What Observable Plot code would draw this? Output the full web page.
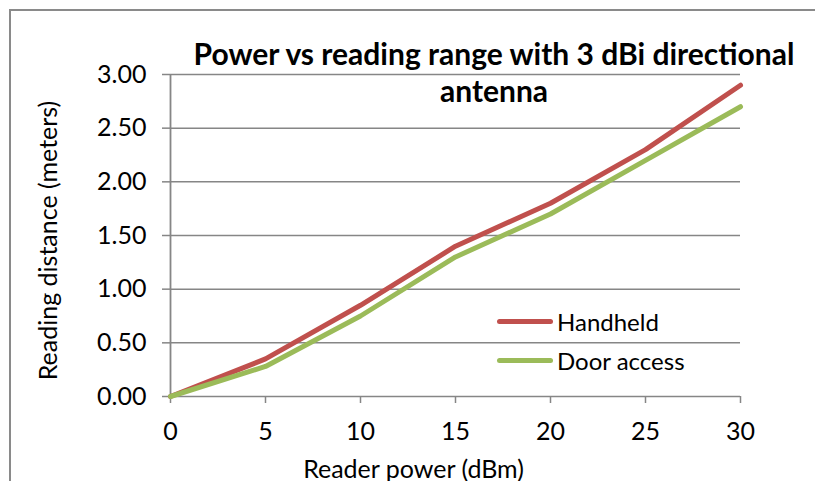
<!DOCTYPE html>
<html>
<head>
<meta charset="utf-8">
<script src="https://cdn.jsdelivr.net/npm/d3@7"></script>
<script src="https://cdn.jsdelivr.net/npm/@observablehq/plot@0.6"></script>
<style>
  html, body { margin: 0; padding: 0; background: #fff; overflow: hidden; }
  #wrap { position: relative; width: 815px; height: 481px; overflow: hidden; font-family: Lato, "Open Sans", sans-serif; }
  #ftop { position: absolute; left: 9px; top: 9px; width: 806px; height: 1.5px; background: #8a8a8a; }
  #fleft { position: absolute; left: 9px; top: 9px; width: 1.5px; height: 472px; background: #8a8a8a; }
  #title { position: absolute; left: 174px; width: 640px; top: 35px; text-align: center; font-weight: bold; font-size: 30px; line-height: 37px; color: #000; white-space: nowrap; }
  .leg { position: absolute; left: 497px; font-size: 24px; line-height: 29px; color: #000; display: flex; align-items: center; white-space: nowrap; }
  .leg span.sw { display: inline-block; width: 56px; height: 5px; border-radius: 3px; margin-right: 4px; }
  #plot { position: absolute; left: 0; top: 0; }
</style>
</head>
<body>
<div id="wrap">
  <div id="ftop"></div>
  <div id="fleft"></div>
  <div id="plot"></div>
  <div id="title">Power vs reading range with 3 dBi directional<br>antenna</div>
  <div id="legend"></div>
</div>
<script>
const power = [0, 5, 10, 15, 20, 25, 30];
const handheld = [0, 0.35, 0.85, 1.40, 1.80, 2.30, 2.90];
const doorAccess = [0, 0.28, 0.75, 1.30, 1.70, 2.20, 2.70];
const seriesNames = ["Handheld", "Door access"];
const seriesColors = ["#C0504D", "#9BBB59"];
const yTicks = [0, 0.5, 1, 1.5, 2, 2.5, 3];
const xTicks = [0, 5, 10, 15, 20, 25, 30];

const data = [];
power.forEach((p, i) => {
  data.push({power: p, value: handheld[i], series: seriesNames[0]});
  data.push({power: p, value: doorAccess[i], series: seriesNames[1]});
});

const gray = "#868686";
const chart = Plot.plot({
  width: 815,
  height: 481,
  marginLeft: 170,
  marginRight: 75,
  marginTop: 74,
  marginBottom: 85,
  style: {fontFamily: "Lato, 'Open Sans', sans-serif", fontSize: "25px", color: "#000", background: "transparent"},
  x: {domain: [0, 30]},
  y: {domain: [0, 3]},
  color: {domain: seriesNames, range: seriesColors},
  marks: [
    Plot.gridY(yTicks, {stroke: gray, strokeOpacity: 1, strokeWidth: 1.5}),
    Plot.ruleX([0], {stroke: gray, strokeWidth: 1.8}),
    Plot.axisY({ticks: yTicks, tickFormat: d => d.toFixed(2), tickSize: 8, tickPadding: 16, stroke: gray, strokeWidth: 1.5, strokeOpacity: 1, fontSize: 25, label: null}),
    Plot.axisX({ticks: xTicks, tickSize: 7, tickPadding: 19, stroke: gray, strokeWidth: 1.5, strokeOpacity: 1, fontSize: 25, label: null}),
    Plot.line(data, {x: "power", y: "value", z: "series", stroke: "series", strokeWidth: 5, strokeLinejoin: "round", strokeLinecap: "round"}),
    Plot.text(["Reading distance (meters)"], {frameAnchor: "left", dx: -122, dy: 5, rotate: -90, textAnchor: "middle", lineAnchor: "middle", fontSize: 25}),
    Plot.text(["Reader power (dBm)"], {frameAnchor: "bottom", dx: -42, dy: 81, textAnchor: "middle", lineAnchor: "bottom", fontSize: 25})
  ]
});
document.getElementById("plot").appendChild(chart);

const legend = document.getElementById("legend");
const legTops = [307, 346];
seriesNames.forEach((name, i) => {
  const d = document.createElement("div");
  d.className = "leg";
  d.style.top = legTops[i] + "px";
  d.innerHTML = `<span class="sw" style="background:${seriesColors[i]}"></span>${name}`;
  legend.appendChild(d);
});
</script>
</body>
</html>
